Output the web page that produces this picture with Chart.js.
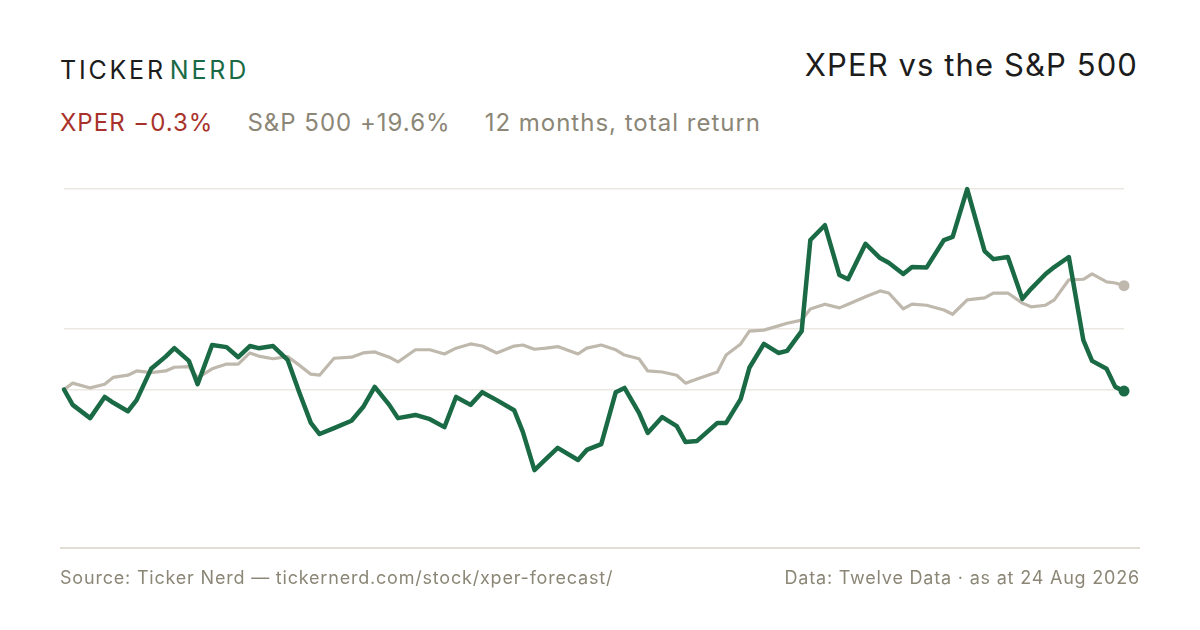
<!DOCTYPE html>
<html>
<head>
<meta charset="utf-8">
<script src="https://cdn.jsdelivr.net/npm/chart.js@4"></script>
<style>
  html, body { margin:0; padding:0; background:#fff; }
  body { width:1200px; height:630px; position:relative; overflow:hidden; font-family: Inter, "Noto Sans", sans-serif; }
  #chart { position:absolute; left:0; top:0; }
  .brand { position:absolute; left:60px; top:55px; font-size:25px; letter-spacing:2.8px; color:#1c1c1c; }
  .brand span { color:#1a6b45; margin-left:4px; }
  .title { position:absolute; right:62px; top:46px; font-size:31px; color:#1c1c1c; letter-spacing:1.1px; }
  .sub { position:absolute; left:60px; top:108px; font-size:24px; color:#8b8676; letter-spacing:1px; }
  .sub .x { color:#a8322a; margin-right:34px; }
  .sub .s { margin-right:34px; }
  .rule { position:absolute; left:60px; top:547px; width:1080px; height:2px; background:#e2ded5; }
  .foot { position:absolute; top:567px; font-size:18px; color:#8b8676; letter-spacing:0.8px; }
  .foot.l { left:60px; }
  .foot.r { right:60px; }
</style>
</head>
<body>
<div class="brand">TICKER<span>NERD</span></div>
<div class="title">XPER vs the S&amp;P 500</div>
<div class="sub"><span class="x">XPER −0.3%</span><span class="s">S&amp;P 500 +19.6%</span>12 months, total return</div>
<canvas id="chart" width="1200" height="630"></canvas>
<div class="rule"></div>
<div class="foot l">Source: Ticker Nerd — tickernerd.com/stock/xper-forecast/</div>
<div class="foot r">Data: Twelve Data · as at 24 Aug 2026</div>

<script>
// days since start of the 12 month window
const dayOffsets = [0,3,9,14,17,22,25,30,35,38,43,46,51,56,60,64,67,72,77,81,85,88,93,99,103,107,112,115,121,126,
  131,135,140,144,149,155,158,162,166,170,177,180,185,190,193,198,201,206,211,214,218,225,228,233,236,241,246,249,254,257,
  262,267,270,276,281,284,289,292,297,303,306,311,317,320,325,330,333,338,341,346,351,354,359,362,365];

// total return, %
const xperReturn = [0,-2.9,-5.4,-1.4,-2.5,-4.1,-2.0,3.9,6.2,7.8,5.4,1.0,8.4,8.0,6.1,8.2,7.8,8.2,5.6,-0.5,
  -6.3,-8.4,-7.3,-5.9,-3.3,0.5,-2.9,-5.4,-4.8,-5.6,-7.1,-1.4,-2.9,-0.5,-2.0,-3.9,-8.0,-15.2,-13.1,-11.0,
  -13.3,-11.4,-10.3,-0.5,0.3,-4.4,-8.2,-5.2,-6.9,-9.9,-9.7,-6.3,-6.3,-1.8,4.1,8.6,6.9,7.3,11.0,28.2,
  31.0,21.6,20.8,27.5,24.8,23.9,21.8,23.1,23.0,28.2,28.8,37.8,26.1,24.6,25.0,17.1,19.0,21.8,23.1,25.0,
  9.3,5.4,3.9,0.5,-0.3];

const spxReturn = [0,1.2,0.3,1.0,2.3,2.7,3.5,3.2,3.5,4.2,4.3,2.2,3.9,4.8,4.8,6.9,6.3,5.8,6.2,4.6,
  2.9,2.7,5.9,6.1,6.9,7.1,6.1,5.2,7.5,7.5,6.7,7.8,8.6,8.2,6.9,8.2,8.4,7.6,7.8,8.1,
  6.7,7.8,8.4,7.5,6.5,5.8,3.5,3.3,2.7,1.2,2.0,3.3,6.5,8.6,11.0,11.2,12.0,12.5,13.1,15.2,
  16.1,15.4,16.1,17.5,18.6,18.2,15.2,16.1,15.9,15.0,14.2,16.9,17.3,18.2,18.2,16.3,15.6,15.9,16.9,20.7,
  20.8,21.8,20.3,20.1,19.6];

const gridValues = [0, 11.4, 37.8];

const lastIdx = dayOffsets.length - 1;
const toPoints = arr => arr.map((v, i) => ({x: dayOffsets[i], y: v}));
const endDot = r => ctx => ctx.dataIndex === lastIdx ? r : 0;

new Chart(document.getElementById('chart'), {
  type: 'line',
  data: {
    datasets: [
      {
        label: 'XPER',
        data: toPoints(xperReturn),
        borderColor: '#1a6b45',
        backgroundColor: '#1a6b45',
        borderWidth: 4.5,
        pointRadius: endDot(5.5),
        pointBorderWidth: 0,
        borderJoinStyle: 'round',
        borderCapStyle: 'round',
        tension: 0,
        clip: false
      },
      {
        label: 'S&P 500',
        data: toPoints(spxReturn),
        borderColor: '#bfb8ad',
        backgroundColor: '#bfb8ad',
        borderWidth: 3.2,
        pointRadius: endDot(5.5),
        pointBorderWidth: 0,
        borderJoinStyle: 'round',
        tension: 0,
        clip: false
      }
    ]
  },
  options: {
    responsive: false,
    animation: false,
    events: [],
    layout: { padding: { left: 64, right: 76, top: 189, bottom: 141 } },
    plugins: { legend: { display: false }, tooltip: { enabled: false } },
    scales: {
      x: { type: 'linear', min: 0, max: 365, display: false },
      y: {
        min: -18.77, max: 37.83,
        border: { display: false },
        ticks: { display: false },
        grid: { color: '#ebe8e2', lineWidth: 1.5, drawTicks: false },
        afterBuildTicks: s => { s.ticks = gridValues.map(v => ({value: v})); }
      }
    }
  }
});
</script>
</body>
</html>
